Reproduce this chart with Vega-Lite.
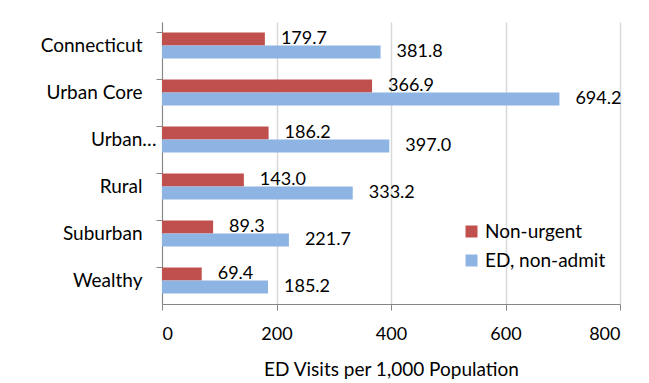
{
  "$schema": "https://vega.github.io/schema/vega-lite/v6.json",
  "width": 458,
  "height": 282,
  "autosize": {"type": "none"},
  "padding": {"left": 162, "top": 22, "right": 29, "bottom": 79},
  "background": "white",
  "config": {
    "font": "Lato",
    "view": {"stroke": null},
    "axis": {"labelFont": "Lato", "titleFont": "Lato", "labelColor": "#000000", "titleColor": "#000000", "titleFontWeight": "normal"}
  },
  "data": {
    "values": [
      {"category": "Connecticut", "series": "Non-urgent", "value": 179.7},
      {"category": "Connecticut", "series": "ED, non-admit", "value": 381.8},
      {"category": "Urban Core", "series": "Non-urgent", "value": 366.9},
      {"category": "Urban Core", "series": "ED, non-admit", "value": 694.2},
      {"category": "Urban…", "series": "Non-urgent", "value": 186.2},
      {"category": "Urban…", "series": "ED, non-admit", "value": 397.0},
      {"category": "Rural", "series": "Non-urgent", "value": 143.0},
      {"category": "Rural", "series": "ED, non-admit", "value": 333.2},
      {"category": "Suburban", "series": "Non-urgent", "value": 89.3},
      {"category": "Suburban", "series": "ED, non-admit", "value": 221.7},
      {"category": "Wealthy", "series": "Non-urgent", "value": 69.4},
      {"category": "Wealthy", "series": "ED, non-admit", "value": 185.2}
    ]
  },
  "encoding": {
    "y": {
      "field": "category", "type": "nominal",
      "sort": ["Connecticut", "Urban Core", "Urban…", "Rural", "Suburban", "Wealthy"],
      "scale": {"paddingInner": 0.447, "paddingOuter": 0.2235},
      "axis": {
        "title": null,
        "labelFontSize": 19,
        "labelPadding": {"condition": {"test": "datum.value === 'Urban…'", "value": 0}, "value": 14},
        "domainColor": "#868686",
        "tickColor": "#868686",
        "tickSize": 6,
        "bandPosition": 0,
        "grid": false
      }
    },
    "yOffset": {"field": "series", "type": "nominal", "sort": ["Non-urgent", "ED, non-admit"]},
    "x": {
      "field": "value", "type": "quantitative",
      "scale": {"domain": [0, 800]},
      "axis": {
        "title": "ED Visits per 1,000 Population",
        "titleFontSize": 19,
        "titlePadding": 17,
        "values": [0, 200, 400, 600, 800],
        "labelFontSize": 18,
        "labelPadding": 15,
        "tickSize": 6,
        "domainColor": "#868686",
        "tickColor": "#868686",
        "gridColor": "#D9D9D9",
        "gridWidth": 1.5
      }
    }
  },
  "layer": [
    {
      "mark": {"type": "bar"},
      "encoding": {
        "color": {
          "field": "series", "type": "nominal",
          "scale": {"domain": ["Non-urgent", "ED, non-admit"], "range": ["#C0504D", "#8EB4E3"]},
          "legend": {
            "title": null,
            "orient": "none",
            "legendX": 300,
            "legendY": 200,
            "symbolType": "square",
            "symbolSize": 144,
            "symbolStrokeWidth": 0,
            "labelFontSize": 19,
            "labelFont": "Lato",
            "labelColor": "#000000",
            "rowPadding": 9,
            "labelOffset": 4
          }
        }
      }
    },
    {
      "mark": {"type": "text", "align": "left", "baseline": "middle", "dx": 16, "fontSize": 18, "font": "Lato", "color": "#000000"},
      "encoding": {
        "text": {"field": "value", "type": "quantitative", "format": ".1f"}
      }
    }
  ]
}
